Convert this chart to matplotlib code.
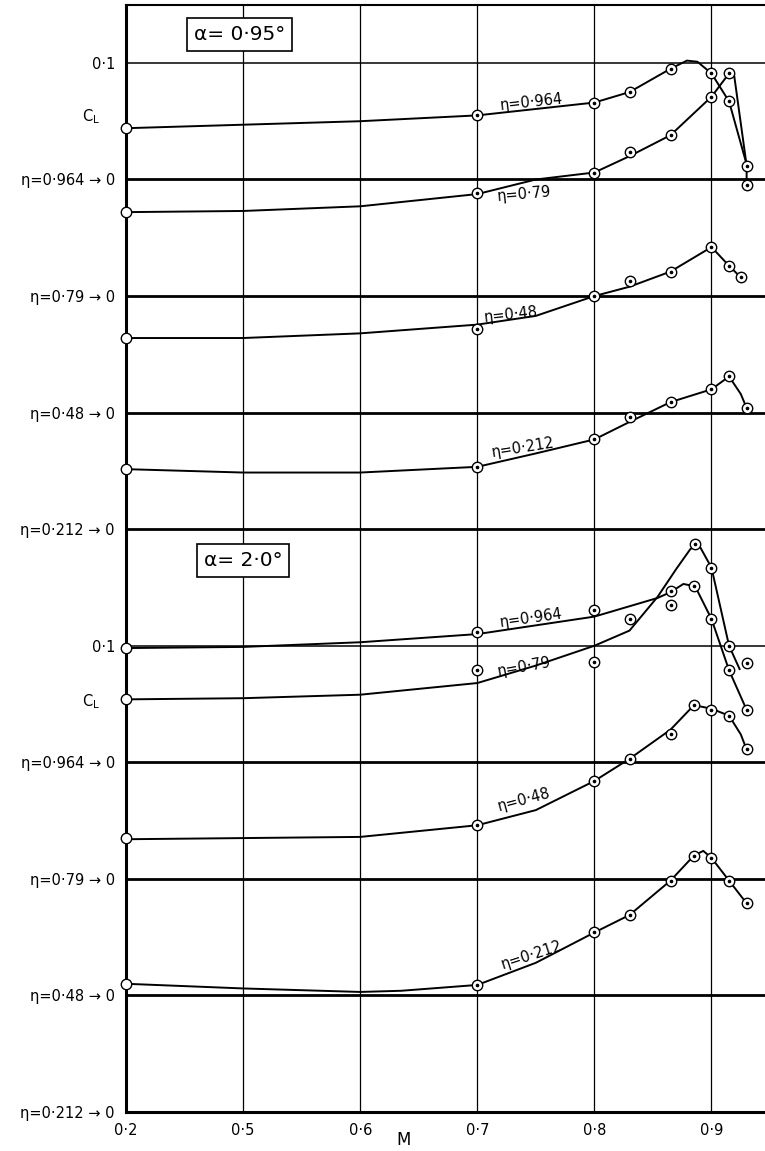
import numpy as np
import matplotlib
matplotlib.use("Agg")
import matplotlib.pyplot as plt

# Mach numbers along the (broken) x axis
tick_M = [0.2, 0.5, 0.6, 0.7, 0.8, 0.9]
tick_M_labels = ["0·2", "0·5", "0·6", "0·7", "0·8", "0·9"]

# zero lines of each curve (stacked chart, 0.1 C_L per division)
zero_095 = {"0·964": 0.8, "0·79": 0.7, "0·48": 0.6, "0·212": 0.5}
zero_20 = {"0·964": 0.3, "0·79": 0.2, "0·48": 0.1, "0·212": 0.0}

# ---- alpha = 0.95 deg : measured points ----
pts_095_964_M = [0.2, 0.7, 0.8, 0.83, 0.865, 0.9, 0.915, 0.93]
pts_095_964_CL = [0.044, 0.055, 0.066, 0.075, 0.095, 0.091, 0.067, -0.005]
pts_095_79_M = [0.2, 0.7, 0.8, 0.83, 0.865, 0.9, 0.915, 0.93]
pts_095_79_CL = [0.072, 0.088, 0.106, 0.124, 0.138, 0.171, 0.191, 0.112]
pts_095_48_M = [0.2, 0.7, 0.8, 0.83, 0.865, 0.9, 0.915, 0.925]
pts_095_48_CL = [0.064, 0.0715, 0.100, 0.113, 0.121, 0.142, 0.126, 0.116]
pts_095_212_M = [0.2, 0.7, 0.8, 0.83, 0.865, 0.9, 0.915, 0.93]
pts_095_212_CL = [0.0515, 0.0535, 0.077, 0.096, 0.109, 0.120, 0.131, 0.104]

# ---- alpha = 0.95 deg : faired curves ----
crv_095_964_M = [0.2, 0.5, 0.6, 0.7, 0.8, 0.83, 0.865, 0.879, 0.888, 0.9, 0.915, 0.93, 0.93]
crv_095_964_CL = [0.044, 0.047, 0.050, 0.055, 0.066, 0.075, 0.095, 0.102, 0.101, 0.091, 0.067, 0.013, -0.005]
crv_095_79_M = [0.2, 0.5, 0.6, 0.7, 0.75, 0.8, 0.83, 0.865, 0.9, 0.915, 0.919, 0.93]
crv_095_79_CL = [0.072, 0.073, 0.077, 0.0875, 0.100, 0.106, 0.120, 0.138, 0.171, 0.191, 0.192, 0.112]
crv_095_48_M = [0.2, 0.5, 0.6, 0.7, 0.75, 0.8, 0.83, 0.865, 0.9, 0.915, 0.925]
crv_095_48_CL = [0.064, 0.064, 0.068, 0.0755, 0.083, 0.100, 0.108, 0.121, 0.142, 0.126, 0.116]
crv_095_212_M = [0.2, 0.5, 0.6, 0.7, 0.75, 0.8, 0.83, 0.865, 0.9, 0.915, 0.925, 0.93]
crv_095_212_CL = [0.0515, 0.0486, 0.0486, 0.0535, 0.065, 0.077, 0.092, 0.109, 0.120, 0.131, 0.116, 0.104]

# ---- alpha = 2.0 deg : measured points ----
pts_20_964_M = [0.2, 0.7, 0.8, 0.865, 0.885, 0.9, 0.915, 0.93]
pts_20_964_CL = [0.098, 0.112, 0.131, 0.147, 0.151, 0.123, 0.079, 0.045]
pts_20_79_M = [0.2, 0.7, 0.8, 0.83, 0.865, 0.886, 0.9, 0.915, 0.93]
pts_20_79_CL = [0.154, 0.179, 0.186, 0.223, 0.235, 0.287, 0.267, 0.200, 0.185]
pts_20_48_M = [0.2, 0.7, 0.8, 0.83, 0.865, 0.885, 0.9, 0.915, 0.93]
pts_20_48_CL = [0.135, 0.146, 0.184, 0.203, 0.224, 0.249, 0.245, 0.240, 0.211]
pts_20_212_M = [0.2, 0.7, 0.8, 0.83, 0.865, 0.885, 0.9, 0.915, 0.93]
pts_20_212_CL = [0.110, 0.109, 0.154, 0.169, 0.1985, 0.220, 0.218, 0.1985, 0.179]

# ---- alpha = 2.0 deg : faired curves ----
crv_20_964_M = [0.2, 0.5, 0.6, 0.7, 0.8, 0.854, 0.865, 0.876, 0.886, 0.9, 0.915, 0.93]
crv_20_964_CL = [0.098, 0.099, 0.103, 0.110, 0.125, 0.141, 0.146, 0.153, 0.151, 0.123, 0.079, 0.045]
crv_20_79_M = [0.2, 0.5, 0.6, 0.7, 0.75, 0.8, 0.83, 0.854, 0.87, 0.882, 0.889, 0.9, 0.915, 0.924]
crv_20_79_CL = [0.154, 0.155, 0.158, 0.168, 0.183, 0.200, 0.213, 0.242, 0.266, 0.283, 0.287, 0.267, 0.200, 0.180]
crv_20_48_M = [0.2, 0.5, 0.6, 0.7, 0.75, 0.8, 0.83, 0.865, 0.885, 0.9, 0.915, 0.925, 0.93]
crv_20_48_CL = [0.134, 0.135, 0.136, 0.146, 0.159, 0.184, 0.203, 0.228, 0.249, 0.246, 0.240, 0.224, 0.211]
crv_20_212_M = [0.2, 0.5, 0.6, 0.635, 0.7, 0.75, 0.8, 0.83, 0.865, 0.885, 0.893, 0.9, 0.915, 0.93]
crv_20_212_CL = [0.110, 0.106, 0.103, 0.104, 0.109, 0.128, 0.154, 0.169, 0.1985, 0.220, 0.224, 0.218, 0.1985, 0.179]


def fwd(m):
    m = np.asarray(m, dtype=float)
    return np.where(m < 0.5, (m - 0.2) / 0.3, 1 + (m - 0.5) / 0.1)


def inv(p):
    p = np.asarray(p, dtype=float)
    return np.where(p < 1, 0.2 + 0.3 * p, 0.5 + 0.1 * (p - 1))


fig = plt.figure(figsize=(7.65, 11.51), dpi=100)
ax = fig.add_axes([126 / 765, 1 - 1112 / 1151, 1 - 126 / 765, 1107 / 1151])
ax.set_xscale("function", functions=(fwd, inv))
ax.set_xlim(0.2, 0.9457)
ax.set_ylim(0, 0.9497)

# grid
for m in tick_M[1:]:
    ax.axvline(m, color="black", lw=0.9, zorder=1)
ytick_pos = [0.9, 0.8, 0.7, 0.6, 0.5, 0.4, 0.3, 0.2, 0.1, 0.0]
ytick_lab = ["0·1", "η=0·964 → 0", "η=0·79 → 0", "η=0·48 → 0", "η=0·212 → 0",
             "0·1", "η=0·964 → 0", "η=0·79 → 0", "η=0·48 → 0", "η=0·212 → 0"]
for y, lab in zip(ytick_pos, ytick_lab):
    ax.axhline(y, color="black", lw=1.1 if lab == "0·1" else 2.0, zorder=1)


def draw(zero, cm, ccl, pm, pcl):
    ax.plot(cm, zero + np.array(ccl), color="black", lw=1.4, zorder=3, clip_on=False)
    ax.plot(pm, zero + np.array(pcl), ls="none", marker="o", ms=7.5, mfc="white",
            mec="black", mew=1.0, zorder=4, clip_on=False)
    ax.plot(pm[1:], zero + np.array(pcl[1:]), ls="none", marker="o", ms=1.6,
            color="black", zorder=5, clip_on=False)


draw(zero_095["0·964"], crv_095_964_M, crv_095_964_CL, pts_095_964_M, pts_095_964_CL)
draw(zero_095["0·79"], crv_095_79_M, crv_095_79_CL, pts_095_79_M, pts_095_79_CL)
draw(zero_095["0·48"], crv_095_48_M, crv_095_48_CL, pts_095_48_M, pts_095_48_CL)
draw(zero_095["0·212"], crv_095_212_M, crv_095_212_CL, pts_095_212_M, pts_095_212_CL)
draw(zero_20["0·964"], crv_20_964_M, crv_20_964_CL, pts_20_964_M, pts_20_964_CL)
draw(zero_20["0·79"], crv_20_79_M, crv_20_79_CL, pts_20_79_M, pts_20_79_CL)
draw(zero_20["0·48"], crv_20_48_M, crv_20_48_CL, pts_20_48_M, pts_20_48_CL)
draw(zero_20["0·212"], crv_20_212_M, crv_20_212_CL, pts_20_212_M, pts_20_212_CL)

# curve labels
curve_labels = [
    (0.746, 0.866, "η=0·964", 6), (0.740, 0.787, "η=0·79", 5),
    (0.729, 0.684, "η=0·48", 6), (0.739, 0.570, "η=0·212", 9),
    (0.746, 0.424, "η=0·964", 8), (0.740, 0.382, "η=0·79", 10),
    (0.740, 0.268, "η=0·48", 15), (0.746, 0.135, "η=0·212", 18),
]
for x, y, s, r in curve_labels:
    ax.text(x, y, s, fontsize=10.5, rotation=r, ha="center", va="center", zorder=6)

# boxed alpha labels
box = dict(boxstyle="square,pad=0.35", fc="white", ec="black", lw=1.2)
ax.text(0.178, 0.973, "α= 0·95°", transform=ax.transAxes, fontsize=14.5,
        ha="center", va="center", bbox=box, zorder=7)
ax.text(0.183, 0.498, "α= 2·0°", transform=ax.transAxes, fontsize=14.5,
        ha="center", va="center", bbox=box, zorder=7)

# axes, ticks
ax.set_xticks(tick_M)
ax.set_xticklabels(tick_M_labels, fontsize=10.5)
ax.set_yticks(ytick_pos)
ax.set_yticklabels(ytick_lab, fontsize=10.5)
ax.tick_params(length=0, pad=8)
ax.xaxis.set_minor_locator(matplotlib.ticker.NullLocator())
ax.spines["right"].set_visible(False)
ax.spines["left"].set_linewidth(2.2)
ax.spines["bottom"].set_linewidth(2.2)
ax.spines["top"].set_linewidth(1.5)

ax.text(-0.04, 0.8536, "C$_\\mathregular{L}$", transform=ax.get_yaxis_transform(),
        fontsize=10.5, ha="right", va="center")
ax.text(-0.04, 0.352, "C$_\\mathregular{L}$", transform=ax.get_yaxis_transform(),
        fontsize=10.5, ha="right", va="center")
fig.text(404 / 765, 1 - 1140 / 1151, "M", fontsize=12, ha="center", va="center")

fig.savefig("out.png", dpi=100, facecolor="white")
